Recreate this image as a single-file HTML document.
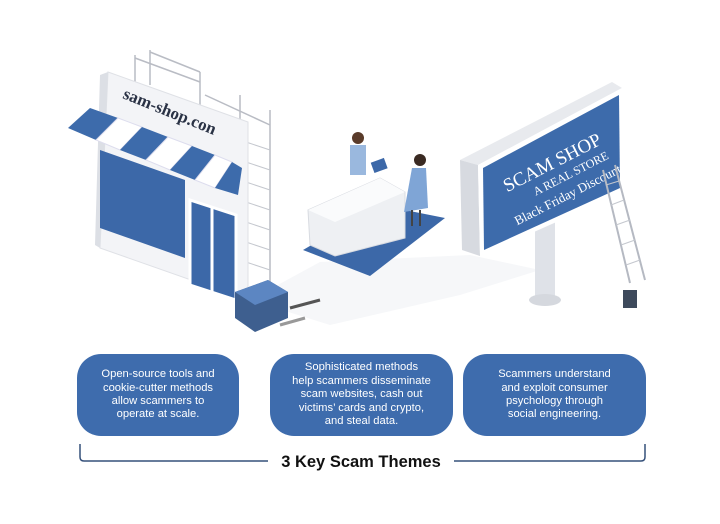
<!DOCTYPE html>
<html><head><meta charset="utf-8"><style>
body{margin:0;background:#fff;width:720px;height:524px;overflow:hidden;font-family:"Liberation Sans",sans-serif}
.box{position:absolute;top:354px;height:82px;background:#3e6cad;border-radius:24px;color:#fff;font-size:11.2px;line-height:13.4px;text-align:center;display:flex;align-items:center;justify-content:center}
</style></head><body>
<svg width="720" height="524" style="position:absolute;left:0;top:0">
<defs><clipPath id="bb"><polygon points="483,168 619,95 620,188 484,250"/></clipPath></defs>
<!-- ground shadows -->
<polygon points="250,300 330,325 460,295 540,270 470,255 320,262" fill="#f6f7f9"/>
<!-- shop scaffold top -->
<g stroke="#b9bcc4" stroke-width="1.5" fill="none">
<line x1="135" y1="55" x2="135" y2="85"/><line x1="150" y1="50" x2="150" y2="85"/>
<line x1="135" y1="58" x2="200" y2="82"/><line x1="150" y1="52" x2="200" y2="72"/>
<line x1="200" y1="72" x2="200" y2="112"/><line x1="205" y1="95" x2="270" y2="125"/>
<line x1="240" y1="95" x2="240" y2="290"/><line x1="270" y1="110" x2="270" y2="290"/>
</g>
<g stroke="#c4c7ce" stroke-width="1">
<line x1="240" y1="140" x2="270" y2="150"/><line x1="240" y1="160" x2="270" y2="170"/><line x1="240" y1="180" x2="270" y2="190"/><line x1="240" y1="200" x2="270" y2="210"/><line x1="240" y1="220" x2="270" y2="230"/><line x1="240" y1="240" x2="270" y2="250"/><line x1="240" y1="260" x2="270" y2="270"/>
</g>
<!-- facade -->
<polygon points="108,72 248,122 248,300 100,248" fill="#f3f4f7" stroke="#dfe1e6"/>
<polygon points="100,75 108,72 100,248 95,245" fill="#dcdfe5"/>
<polygon points="100,150 185,180 185,258 100,228" fill="#3c68a8"/>
<polygon points="190,200 236,215 236,300 190,285" fill="#3c68a8" stroke="#fff" stroke-width="3"/>
<line x1="212" y1="208" x2="212" y2="292" stroke="#fff" stroke-width="3"/>
<text x="0" y="0" transform="translate(122,98) rotate(22)" font-family="Liberation Serif,serif" font-size="17" font-weight="bold" fill="#2a3245">sam-shop.con</text>
<!-- awning -->
<g>
<polygon points="68,128 90,108 118,118 96,140" fill="#3d6bab"/>
<polygon points="96,140 118,118 142,127 120,150" fill="#fff" stroke="#dde"/>
<polygon points="120,150 142,127 168,137 146,160" fill="#3d6bab"/>
<polygon points="146,160 168,137 192,146 170,170" fill="#fff" stroke="#dde"/>
<polygon points="170,170 192,146 215,155 195,180" fill="#3d6bab"/>
<polygon points="195,180 215,155 232,162 215,188" fill="#fff" stroke="#dde"/>
<polygon points="215,188 232,162 242,168 238,195" fill="#3d6bab"/>
</g>
<!-- toolbox -->
<polygon points="235,292 268,280 288,292 288,318 255,332 235,318" fill="#3e5f8f"/>
<polygon points="235,292 268,280 288,292 255,305" fill="#5c86c2"/>
<line x1="290" y1="308" x2="320" y2="300" stroke="#555" stroke-width="3"/>
<line x1="280" y1="325" x2="305" y2="318" stroke="#999" stroke-width="3"/>
<!-- counter -->
<polygon points="303,250 380,205 445,218 370,276" fill="#3c68a8"/>
<polygon points="308,210 380,178 405,192 405,238 335,256 310,245" fill="#eef0f3" stroke="#d8dbe1"/>
<polygon points="308,210 380,178 405,192 335,222" fill="#fafbfc"/>
<!-- man -->
<rect x="350" y="145" width="16" height="30" fill="#9ab8de"/>
<circle cx="358" cy="138" r="6" fill="#5a3b2a"/>
<rect x="372" y="160" width="14" height="11" fill="#3c68a8" transform="rotate(-20 379 165)"/>
<!-- woman -->
<circle cx="420" cy="160" r="6" fill="#3a2a22"/>
<polygon points="412,168 426,168 428,208 404,212" fill="#7fa5d6"/>
<line x1="412" y1="210" x2="412" y2="226" stroke="#444" stroke-width="2"/>
<line x1="420" y1="210" x2="420" y2="226" stroke="#444" stroke-width="2"/>
<!-- billboard -->
<polygon points="535,225 555,218 555,298 535,298" fill="#dfe2e8"/>
<ellipse cx="545" cy="300" rx="16" ry="6" fill="#d5d8de"/>
<polygon points="460,160 612,82 622,88 478,165" fill="#e8eaee"/>
<polygon points="460,160 478,165 480,256 462,250" fill="#d7dae0"/>
<polygon points="478,165 622,88 624,192 480,256" fill="#fff"/>
<polygon points="483,168 619,95 620,188 484,250" fill="#3d6bab"/>
<g clip-path="url(#bb)">
<text transform="translate(500,196) rotate(-27)" font-family="Liberation Serif,serif" fill="#fff">
<tspan x="8" y="0" font-size="19">SCAM SHOP</tspan>
<tspan x="32" y="16" font-size="12">A REAL STORE</tspan>
<tspan x="2" y="34" font-size="13">Black Friday Discounts!</tspan></text>
</g>
<g stroke="#b5b9c2" stroke-width="2"><line x1="603" y1="170" x2="630" y2="283"/><line x1="615" y1="165" x2="645" y2="280"/></g>
<g stroke="#c4c7ce" stroke-width="1"><line x1="606" y1="185" x2="619" y2="181"/><line x1="611" y1="205" x2="624" y2="200"/><line x1="616" y1="225" x2="630" y2="220"/><line x1="621" y1="245" x2="635" y2="240"/><line x1="626" y1="265" x2="640" y2="260"/></g>
<rect x="623" y="290" width="14" height="18" fill="#3e4a5c"/>
<!-- bracket -->
<path d="M80 444 V457 Q80 461 84 461 H268 M454 461 H641 Q645 461 645 457 V444" fill="none" stroke="#35507a" stroke-width="1.5"/>
<text x="361" y="467" text-anchor="middle" font-size="16.5" font-weight="bold" fill="#111">3 Key Scam Themes</text>
</svg>
<div class="box" style="left:77px;width:162px">Open-source tools and<br>cookie-cutter methods<br>allow scammers to<br>operate at scale.</div>
<div class="box" style="left:270px;width:183px">Sophisticated methods<br>help scammers disseminate<br>scam websites, cash out<br>victims’ cards and crypto,<br>and steal data.</div>
<div class="box" style="left:463px;width:183px">Scammers understand<br>and exploit consumer<br>psychology through<br>social engineering.</div>
</body></html>
